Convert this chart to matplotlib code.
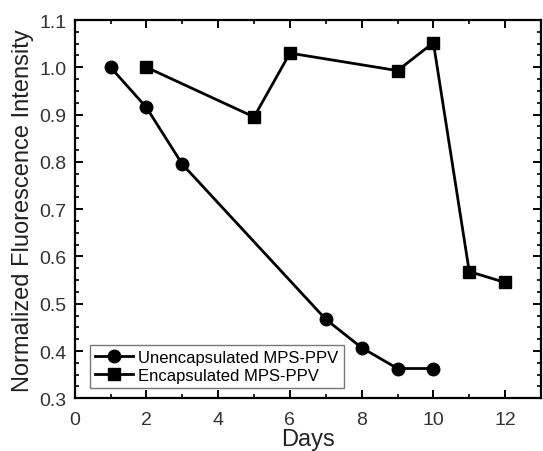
import matplotlib.pyplot as plt
from matplotlib.ticker import MultipleLocator

plt.rcParams['font.family'] = ['Liberation Sans', 'DejaVu Sans']

days_unenc = [1, 2, 3, 7, 8, 9, 10]
intensity_unenc = [1.0, 0.915, 0.795, 0.467, 0.407, 0.363, 0.363]

days_enc = [2, 5, 6, 9, 10, 11, 12]
intensity_enc = [1.0, 0.895, 1.03, 0.993, 1.052, 0.568, 0.545]

fig = plt.figure(figsize=(5.43, 4.52), dpi=100)
ax = fig.add_axes([0.1376, 0.1166, 0.8587, 0.8369])

ax.plot(days_unenc, intensity_unenc, color='black', marker='o', markersize=9,
        linewidth=2.0, label='Unencapsulated MPS-PPV')
ax.plot(days_enc, intensity_enc, color='black', marker='s', markersize=8.2,
        linewidth=2.0, label='Encapsulated MPS-PPV')

ax.set_xlim(0, 13)
ax.set_ylim(0.3, 1.1)
ax.xaxis.set_major_locator(MultipleLocator(2))
ax.xaxis.set_minor_locator(MultipleLocator(1))
ax.yaxis.set_major_locator(MultipleLocator(0.1))
ax.yaxis.set_minor_locator(MultipleLocator(0.025))
ax.yaxis.set_major_formatter(plt.FormatStrFormatter('%.1f'))

ax.tick_params(which='both', direction='in', top=True, right=True,
               labelsize=14, colors='black', labelcolor='#333333')
ax.tick_params(which='major', length=6, width=1.4, pad=6)
ax.tick_params(which='minor', length=3, width=1.2)
ax.tick_params(axis='x', which='major', pad=9)
for s in ax.spines.values():
    s.set_linewidth(1.6)

ax.set_xlabel('Days', fontsize=17, color='#222222', labelpad=0)
ax.set_ylabel('Normalized Fluorescence Intensity', fontsize=17, color='#222222', labelpad=4)

leg = ax.legend(loc='lower left', fontsize=12, frameon=True, fancybox=False,
                handlelength=2.3, handletextpad=0.3, borderpad=0.3,
                labelspacing=0.2, bbox_to_anchor=(0.015, 0.005))
leg.get_frame().set_edgecolor('#555555')
leg.get_frame().set_linewidth(1.0)

fig.savefig('out.png', dpi=100)
